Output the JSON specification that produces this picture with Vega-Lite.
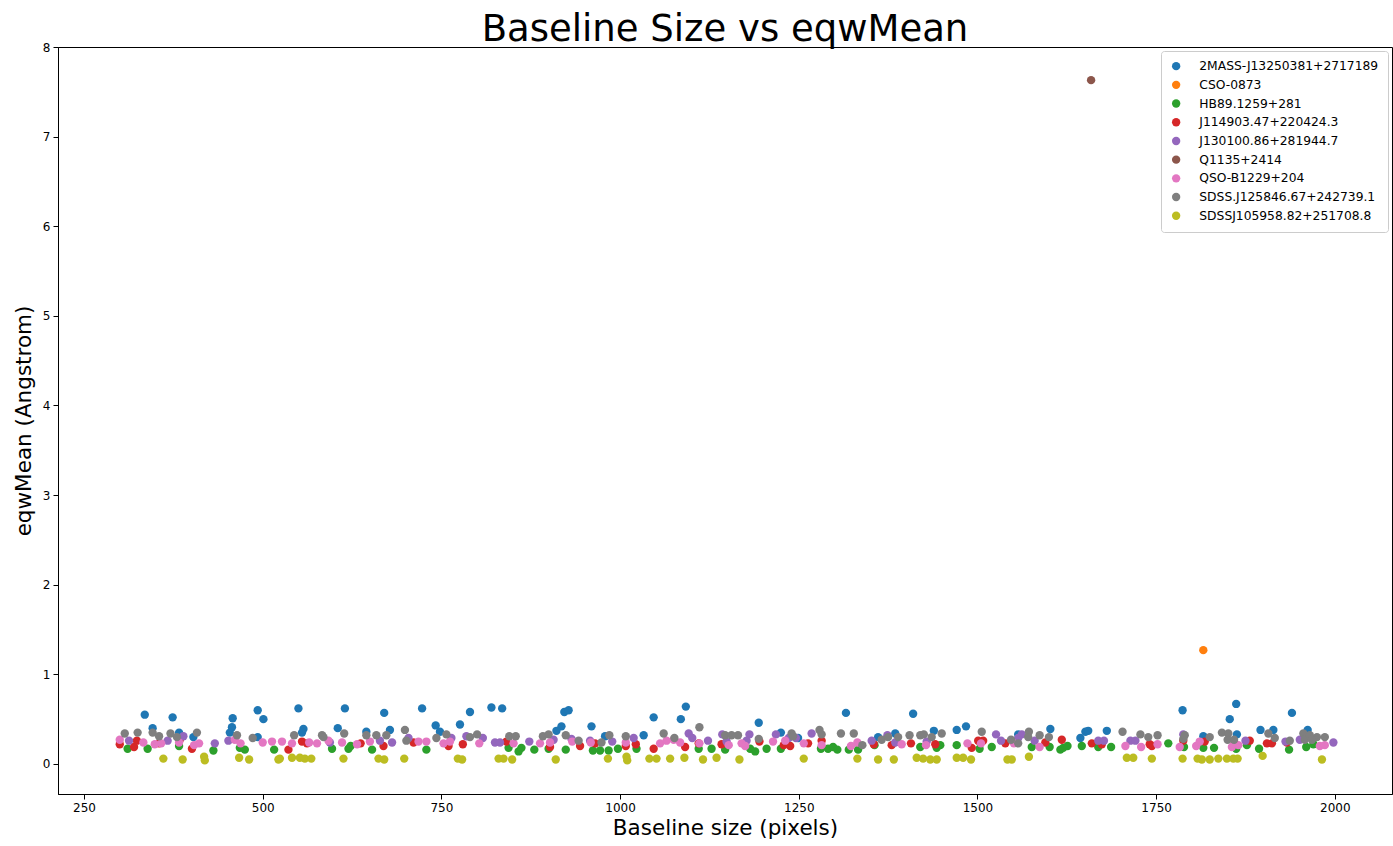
{
"$schema": "https://vega.github.io/schema/vega-lite/v6.json",
"width": 1334, "height": 747, "autosize": "none",
"padding": {"left": 58, "top": 47, "right": 1, "bottom": 52},
"background": "white",
"title": {"text": "Baseline Size vs eqwMean", "fontSize": 37, "font": "DejaVu Sans", "fontWeight": "normal", "color": "black", "anchor": "middle", "offset": -8},
"config": {
  "view": {"stroke": "black", "strokeWidth": 1},
  "axis": {"grid": false, "domainColor": "black", "tickColor": "black", "labelColor": "black", "titleColor": "black", "labelFont": "DejaVu Sans", "titleFont": "DejaVu Sans", "labelFontSize": 12, "titleFontSize": 21.5, "titleFontWeight": "normal", "tickSize": 5, "labelPadding": 3},
  "legend": {"labelFont": "DejaVu Sans", "labelFontSize": 12.3, "labelColor": "black", "labelLimit": 300, "fillColor": "white", "strokeColor": "#cccccc", "cornerRadius": 3, "padding": 9, "rowPadding": 5.7, "symbolSize": 70, "symbolType": "circle", "labelOffset": 17, "offset": 4}
},
"data": {"values": [
{"t":"2MASS-J13250381+2717189","x":335,"y":0.55},{"t":"2MASS-J13250381+2717189","x":346,"y":0.40},{"t":"2MASS-J13250381+2717189","x":374,"y":0.52},{"t":"2MASS-J13250381+2717189","x":383,"y":0.35},{"t":"2MASS-J13250381+2717189","x":403,"y":0.30},{"t":"2MASS-J13250381+2717189","x":458,"y":0.51},{"t":"2MASS-J13250381+2717189","x":457,"y":0.41},{"t":"2MASS-J13250381+2717189","x":454,"y":0.35},{"t":"2MASS-J13250381+2717189","x":493,"y":0.60},{"t":"2MASS-J13250381+2717189","x":501,"y":0.50},{"t":"2MASS-J13250381+2717189","x":493,"y":0.30},
{"t":"2MASS-J13250381+2717189","x":550,"y":0.62},{"t":"2MASS-J13250381+2717189","x":615,"y":0.62},{"t":"2MASS-J13250381+2717189","x":670,"y":0.57},{"t":"2MASS-J13250381+2717189","x":723,"y":0.62},{"t":"2MASS-J13250381+2717189","x":557,"y":0.39},{"t":"2MASS-J13250381+2717189","x":555,"y":0.35},{"t":"2MASS-J13250381+2717189","x":605,"y":0.40},{"t":"2MASS-J13250381+2717189","x":645,"y":0.36},{"t":"2MASS-J13250381+2717189","x":678,"y":0.38},{"t":"2MASS-J13250381+2717189","x":742,"y":0.43},{"t":"2MASS-J13250381+2717189","x":748,"y":0.36},
{"t":"2MASS-J13250381+2717189","x":790,"y":0.58},{"t":"2MASS-J13250381+2717189","x":820,"y":0.63},{"t":"2MASS-J13250381+2717189","x":835,"y":0.62},{"t":"2MASS-J13250381+2717189","x":776,"y":0.44},{"t":"2MASS-J13250381+2717189","x":922,"y":0.58},{"t":"2MASS-J13250381+2717189","x":928,"y":0.60},{"t":"2MASS-J13250381+2717189","x":918,"y":0.42},{"t":"2MASS-J13250381+2717189","x":911,"y":0.37},{"t":"2MASS-J13250381+2717189","x":960,"y":0.42},{"t":"2MASS-J13250381+2717189","x":979,"y":0.31},
{"t":"2MASS-J13250381+2717189","x":1047,"y":0.52},{"t":"2MASS-J13250381+2717189","x":1092,"y":0.64},{"t":"2MASS-J13250381+2717189","x":1085,"y":0.50},{"t":"2MASS-J13250381+2717189","x":1033,"y":0.32},{"t":"2MASS-J13250381+2717189","x":1194,"y":0.46},{"t":"2MASS-J13250381+2717189","x":1225,"y":0.35},
{"t":"2MASS-J13250381+2717189","x":1316,"y":0.57},{"t":"2MASS-J13250381+2717189","x":1410,"y":0.56},{"t":"2MASS-J13250381+2717189","x":1249,"y":0.29},{"t":"2MASS-J13250381+2717189","x":1361,"y":0.30},{"t":"2MASS-J13250381+2717189","x":1385,"y":0.34},{"t":"2MASS-J13250381+2717189","x":1439,"y":0.37},{"t":"2MASS-J13250381+2717189","x":1471,"y":0.38},
{"t":"2MASS-J13250381+2717189","x":1484,"y":0.42},{"t":"2MASS-J13250381+2717189","x":1602,"y":0.39},{"t":"2MASS-J13250381+2717189","x":1644,"y":0.29},{"t":"2MASS-J13250381+2717189","x":1651,"y":0.36},{"t":"2MASS-J13250381+2717189","x":1655,"y":0.37},{"t":"2MASS-J13250381+2717189","x":1681,"y":0.37},{"t":"2MASS-J13250381+2717189","x":1557,"y":0.33},
{"t":"2MASS-J13250381+2717189","x":1787,"y":0.60},{"t":"2MASS-J13250381+2717189","x":1862,"y":0.67},{"t":"2MASS-J13250381+2717189","x":1853,"y":0.50},{"t":"2MASS-J13250381+2717189","x":1940,"y":0.57},{"t":"2MASS-J13250381+2717189","x":1816,"y":0.31},{"t":"2MASS-J13250381+2717189","x":1863,"y":0.33},{"t":"2MASS-J13250381+2717189","x":1896,"y":0.38},{"t":"2MASS-J13250381+2717189","x":1914,"y":0.38},{"t":"2MASS-J13250381+2717189","x":1962,"y":0.38},
{"t":"CSO-0873","x":1816,"y":1.27},
{"t":"HB89.1259+281","x":311,"y":0.17},{"t":"HB89.1259+281","x":339,"y":0.17},{"t":"HB89.1259+281","x":383,"y":0.20},{"t":"HB89.1259+281","x":431,"y":0.15},{"t":"HB89.1259+281","x":468,"y":0.18},{"t":"HB89.1259+281","x":475,"y":0.16},{"t":"HB89.1259+281","x":516,"y":0.16},
{"t":"HB89.1259+281","x":597,"y":0.17},{"t":"HB89.1259+281","x":620,"y":0.17},{"t":"HB89.1259+281","x":623,"y":0.20},{"t":"HB89.1259+281","x":653,"y":0.16},{"t":"HB89.1259+281","x":729,"y":0.16},
{"t":"HB89.1259+281","x":844,"y":0.18},{"t":"HB89.1259+281","x":858,"y":0.14},{"t":"HB89.1259+281","x":862,"y":0.18},{"t":"HB89.1259+281","x":880,"y":0.16},{"t":"HB89.1259+281","x":900,"y":0.17},{"t":"HB89.1259+281","x":924,"y":0.16},{"t":"HB89.1259+281","x":962,"y":0.15},{"t":"HB89.1259+281","x":972,"y":0.15},{"t":"HB89.1259+281","x":984,"y":0.15},{"t":"HB89.1259+281","x":997,"y":0.17},
{"t":"HB89.1259+281","x":1023,"y":0.17},{"t":"HB89.1259+281","x":1110,"y":0.17},{"t":"HB89.1259+281","x":1128,"y":0.17},{"t":"HB89.1259+281","x":1147,"y":0.16},{"t":"HB89.1259+281","x":1182,"y":0.17},{"t":"HB89.1259+281","x":1189,"y":0.14},{"t":"HB89.1259+281","x":1205,"y":0.17},{"t":"HB89.1259+281","x":1225,"y":0.17},
{"t":"HB89.1259+281","x":1281,"y":0.17},{"t":"HB89.1259+281","x":1291,"y":0.17},{"t":"HB89.1259+281","x":1298,"y":0.19},{"t":"HB89.1259+281","x":1304,"y":0.16},{"t":"HB89.1259+281","x":1320,"y":0.16},{"t":"HB89.1259+281","x":1333,"y":0.16},{"t":"HB89.1259+281","x":1356,"y":0.21},{"t":"HB89.1259+281","x":1420,"y":0.19},{"t":"HB89.1259+281","x":1443,"y":0.18},{"t":"HB89.1259+281","x":1448,"y":0.21},{"t":"HB89.1259+281","x":1471,"y":0.21},
{"t":"HB89.1259+281","x":1503,"y":0.17},{"t":"HB89.1259+281","x":1520,"y":0.19},{"t":"HB89.1259+281","x":1576,"y":0.19},{"t":"HB89.1259+281","x":1601,"y":0.19},{"t":"HB89.1259+281","x":1616,"y":0.16},{"t":"HB89.1259+281","x":1620,"y":0.18},{"t":"HB89.1259+281","x":1626,"y":0.20},{"t":"HB89.1259+281","x":1646,"y":0.20},{"t":"HB89.1259+281","x":1669,"y":0.19},{"t":"HB89.1259+281","x":1687,"y":0.19},
{"t":"HB89.1259+281","x":1767,"y":0.23},{"t":"HB89.1259+281","x":1789,"y":0.19},{"t":"HB89.1259+281","x":1816,"y":0.18},{"t":"HB89.1259+281","x":1831,"y":0.18},{"t":"HB89.1259+281","x":1862,"y":0.17},{"t":"HB89.1259+281","x":1877,"y":0.21},{"t":"HB89.1259+281","x":1894,"y":0.17},{"t":"HB89.1259+281","x":1936,"y":0.16},{"t":"HB89.1259+281","x":1960,"y":0.19},{"t":"HB89.1259+281","x":1970,"y":0.22},
{"t":"J114903.47+220424.3","x":300,"y":0.22},{"t":"J114903.47+220424.3","x":320,"y":0.19},{"t":"J114903.47+220424.3","x":324,"y":0.26},{"t":"J114903.47+220424.3","x":355,"y":0.23},{"t":"J114903.47+220424.3","x":401,"y":0.17},{"t":"J114903.47+220424.3","x":384,"y":0.27},
{"t":"J114903.47+220424.3","x":536,"y":0.16},{"t":"J114903.47+220424.3","x":555,"y":0.25},{"t":"J114903.47+220424.3","x":562,"y":0.23},{"t":"J114903.47+220424.3","x":637,"y":0.23},{"t":"J114903.47+220424.3","x":669,"y":0.20},{"t":"J114903.47+220424.3","x":711,"y":0.24},{"t":"J114903.47+220424.3","x":760,"y":0.20},
{"t":"J114903.47+220424.3","x":780,"y":0.22},{"t":"J114903.47+220424.3","x":841,"y":0.25},{"t":"J114903.47+220424.3","x":944,"y":0.20},{"t":"J114903.47+220424.3","x":965,"y":0.23},{"t":"J114903.47+220424.3","x":902,"y":0.19},
{"t":"J114903.47+220424.3","x":1008,"y":0.20},{"t":"J114903.47+220424.3","x":1022,"y":0.22},{"t":"J114903.47+220424.3","x":1047,"y":0.17},{"t":"J114903.47+220424.3","x":1091,"y":0.19},{"t":"J114903.47+220424.3","x":1110,"y":0.23},{"t":"J114903.47+220424.3","x":1142,"y":0.22},{"t":"J114903.47+220424.3","x":1195,"y":0.25},{"t":"J114903.47+220424.3","x":1229,"y":0.21},
{"t":"J114903.47+220424.3","x":1238,"y":0.20},{"t":"J114903.47+220424.3","x":1263,"y":0.23},{"t":"J114903.47+220424.3","x":1282,"y":0.26},{"t":"J114903.47+220424.3","x":1355,"y":0.22},{"t":"J114903.47+220424.3","x":1380,"y":0.21},{"t":"J114903.47+220424.3","x":1407,"y":0.23},{"t":"J114903.47+220424.3","x":1441,"y":0.22},
{"t":"J114903.47+220424.3","x":1492,"y":0.18},{"t":"J114903.47+220424.3","x":1501,"y":0.26},{"t":"J114903.47+220424.3","x":1508,"y":0.26},{"t":"J114903.47+220424.3","x":1539,"y":0.23},{"t":"J114903.47+220424.3","x":1595,"y":0.24},{"t":"J114903.47+220424.3","x":1618,"y":0.27},{"t":"J114903.47+220424.3","x":1660,"y":0.23},{"t":"J114903.47+220424.3","x":1674,"y":0.22},
{"t":"J114903.47+220424.3","x":1741,"y":0.22},{"t":"J114903.47+220424.3","x":1744,"y":0.20},{"t":"J114903.47+220424.3","x":1788,"y":0.26},{"t":"J114903.47+220424.3","x":1818,"y":0.25},{"t":"J114903.47+220424.3","x":1860,"y":0.23},{"t":"J114903.47+220424.3","x":1881,"y":0.26},{"t":"J114903.47+220424.3","x":1905,"y":0.23},{"t":"J114903.47+220424.3","x":1912,"y":0.23},{"t":"J114903.47+220424.3","x":1933,"y":0.24},
{"t":"J130100.86+281944.7","x":313,"y":0.26},{"t":"J130100.86+281944.7","x":389,"y":0.31},{"t":"J130100.86+281944.7","x":367,"y":0.26},{"t":"J130100.86+281944.7","x":433,"y":0.23},{"t":"J130100.86+281944.7","x":452,"y":0.26},
{"t":"J130100.86+281944.7","x":594,"y":0.24},{"t":"J130100.86+281944.7","x":664,"y":0.26},{"t":"J130100.86+281944.7","x":681,"y":0.24},{"t":"J130100.86+281944.7","x":704,"y":0.29},
{"t":"J130100.86+281944.7","x":764,"y":0.29},{"t":"J130100.86+281944.7","x":785,"y":0.31},{"t":"J130100.86+281944.7","x":808,"y":0.29},{"t":"J130100.86+281944.7","x":825,"y":0.24},{"t":"J130100.86+281944.7","x":832,"y":0.24},{"t":"J130100.86+281944.7","x":873,"y":0.25},{"t":"J130100.86+281944.7","x":907,"y":0.27},{"t":"J130100.86+281944.7","x":932,"y":0.28},{"t":"J130100.86+281944.7","x":958,"y":0.26},{"t":"J130100.86+281944.7","x":989,"y":0.25},
{"t":"J130100.86+281944.7","x":1019,"y":0.29},{"t":"J130100.86+281944.7","x":1096,"y":0.34},{"t":"J130100.86+281944.7","x":1101,"y":0.29},{"t":"J130100.86+281944.7","x":1123,"y":0.26},{"t":"J130100.86+281944.7","x":1143,"y":0.33},{"t":"J130100.86+281944.7","x":1149,"y":0.25},{"t":"J130100.86+281944.7","x":1181,"y":0.33},{"t":"J130100.86+281944.7","x":1177,"y":0.26},{"t":"J130100.86+281944.7","x":1218,"y":0.33},{"t":"J130100.86+281944.7","x":1236,"y":0.29},
{"t":"J130100.86+281944.7","x":1246,"y":0.29},{"t":"J130100.86+281944.7","x":1268,"y":0.34},{"t":"J130100.86+281944.7","x":1352,"y":0.26},{"t":"J130100.86+281944.7","x":1374,"y":0.32},{"t":"J130100.86+281944.7","x":1385,"y":0.24},{"t":"J130100.86+281944.7","x":1429,"y":0.25},
{"t":"J130100.86+281944.7","x":1526,"y":0.33},{"t":"J130100.86+281944.7","x":1533,"y":0.26},{"t":"J130100.86+281944.7","x":1562,"y":0.33},{"t":"J130100.86+281944.7","x":1557,"y":0.29},{"t":"J130100.86+281944.7","x":1580,"y":0.26},{"t":"J130100.86+281944.7","x":1669,"y":0.26},{"t":"J130100.86+281944.7","x":1677,"y":0.26},{"t":"J130100.86+281944.7","x":1714,"y":0.26},
{"t":"J130100.86+281944.7","x":1721,"y":0.26},{"t":"J130100.86+281944.7","x":1788,"y":0.33},{"t":"J130100.86+281944.7","x":1875,"y":0.26},{"t":"J130100.86+281944.7","x":1931,"y":0.25},{"t":"J130100.86+281944.7","x":1951,"y":0.27},{"t":"J130100.86+281944.7","x":1998,"y":0.24},
{"t":"Q1135+2414","x":1659,"y":7.63},
{"t":"QSO-B1229+204","x":300,"y":0.27},{"t":"QSO-B1229+204","x":333,"y":0.24},{"t":"QSO-B1229+204","x":349,"y":0.22},{"t":"QSO-B1229+204","x":358,"y":0.23},{"t":"QSO-B1229+204","x":383,"y":0.24},{"t":"QSO-B1229+204","x":404,"y":0.21},{"t":"QSO-B1229+204","x":411,"y":0.23},{"t":"QSO-B1229+204","x":461,"y":0.27},{"t":"QSO-B1229+204","x":469,"y":0.23},{"t":"QSO-B1229+204","x":500,"y":0.24},{"t":"QSO-B1229+204","x":513,"y":0.25},
{"t":"QSO-B1229+204","x":527,"y":0.25},{"t":"QSO-B1229+204","x":541,"y":0.23},{"t":"QSO-B1229+204","x":565,"y":0.24},{"t":"QSO-B1229+204","x":576,"y":0.23},{"t":"QSO-B1229+204","x":592,"y":0.26},{"t":"QSO-B1229+204","x":611,"y":0.24},{"t":"QSO-B1229+204","x":632,"y":0.22},{"t":"QSO-B1229+204","x":650,"y":0.25},{"t":"QSO-B1229+204","x":718,"y":0.25},{"t":"QSO-B1229+204","x":729,"y":0.25},{"t":"QSO-B1229+204","x":753,"y":0.23},
{"t":"QSO-B1229+204","x":762,"y":0.25},{"t":"QSO-B1229+204","x":803,"y":0.23},{"t":"QSO-B1229+204","x":851,"y":0.23},{"t":"QSO-B1229+204","x":888,"y":0.23},{"t":"QSO-B1229+204","x":902,"y":0.24},{"t":"QSO-B1229+204","x":933,"y":0.25},{"t":"QSO-B1229+204","x":959,"y":0.24},
{"t":"QSO-B1229+204","x":1008,"y":0.24},{"t":"QSO-B1229+204","x":1056,"y":0.23},{"t":"QSO-B1229+204","x":1065,"y":0.26},{"t":"QSO-B1229+204","x":1075,"y":0.27},{"t":"QSO-B1229+204","x":1084,"y":0.24},{"t":"QSO-B1229+204","x":1111,"y":0.23},{"t":"QSO-B1229+204","x":1152,"y":0.21},{"t":"QSO-B1229+204","x":1170,"y":0.23},{"t":"QSO-B1229+204","x":1175,"y":0.20},{"t":"QSO-B1229+204","x":1214,"y":0.25},{"t":"QSO-B1229+204","x":1231,"y":0.26},
{"t":"QSO-B1229+204","x":1257,"y":0.23},{"t":"QSO-B1229+204","x":1282,"y":0.21},{"t":"QSO-B1229+204","x":1323,"y":0.20},{"t":"QSO-B1229+204","x":1332,"y":0.24},{"t":"QSO-B1229+204","x":1394,"y":0.22},{"t":"QSO-B1229+204","x":1428,"y":0.21},
{"t":"QSO-B1229+204","x":1486,"y":0.23},{"t":"QSO-B1229+204","x":1505,"y":0.23},{"t":"QSO-B1229+204","x":1551,"y":0.23},{"t":"QSO-B1229+204","x":1587,"y":0.19},
{"t":"QSO-B1229+204","x":1707,"y":0.20},{"t":"QSO-B1229+204","x":1729,"y":0.19},{"t":"QSO-B1229+204","x":1752,"y":0.22},{"t":"QSO-B1229+204","x":1783,"y":0.19},{"t":"QSO-B1229+204","x":1806,"y":0.20},{"t":"QSO-B1229+204","x":1811,"y":0.25},{"t":"QSO-B1229+204","x":1856,"y":0.19},{"t":"QSO-B1229+204","x":1865,"y":0.21},{"t":"QSO-B1229+204","x":1979,"y":0.20},{"t":"QSO-B1229+204","x":1986,"y":0.21},
{"t":"SDSS.J125846.67+242739.1","x":307,"y":0.34},{"t":"SDSS.J125846.67+242739.1","x":325,"y":0.35},{"t":"SDSS.J125846.67+242739.1","x":346,"y":0.35},{"t":"SDSS.J125846.67+242739.1","x":355,"y":0.31},{"t":"SDSS.J125846.67+242739.1","x":371,"y":0.34},{"t":"SDSS.J125846.67+242739.1","x":380,"y":0.30},{"t":"SDSS.J125846.67+242739.1","x":408,"y":0.35},{"t":"SDSS.J125846.67+242739.1","x":464,"y":0.32},{"t":"SDSS.J125846.67+242739.1","x":486,"y":0.29},
{"t":"SDSS.J125846.67+242739.1","x":544,"y":0.32},{"t":"SDSS.J125846.67+242739.1","x":583,"y":0.32},{"t":"SDSS.J125846.67+242739.1","x":585,"y":0.30},{"t":"SDSS.J125846.67+242739.1","x":614,"y":0.34},{"t":"SDSS.J125846.67+242739.1","x":645,"y":0.32},{"t":"SDSS.J125846.67+242739.1","x":659,"y":0.32},{"t":"SDSS.J125846.67+242739.1","x":673,"y":0.32},{"t":"SDSS.J125846.67+242739.1","x":699,"y":0.38},{"t":"SDSS.J125846.67+242739.1","x":701,"y":0.26},{"t":"SDSS.J125846.67+242739.1","x":743,"y":0.29},
{"t":"SDSS.J125846.67+242739.1","x":757,"y":0.33},{"t":"SDSS.J125846.67+242739.1","x":790,"y":0.30},{"t":"SDSS.J125846.67+242739.1","x":800,"y":0.33},{"t":"SDSS.J125846.67+242739.1","x":845,"y":0.31},{"t":"SDSS.J125846.67+242739.1","x":854,"y":0.31},{"t":"SDSS.J125846.67+242739.1","x":892,"y":0.31},{"t":"SDSS.J125846.67+242739.1","x":900,"y":0.33},{"t":"SDSS.J125846.67+242739.1","x":924,"y":0.32},{"t":"SDSS.J125846.67+242739.1","x":942,"y":0.26},{"t":"SDSS.J125846.67+242739.1","x":985,"y":0.32},{"t":"SDSS.J125846.67+242739.1","x":974,"y":0.24},
{"t":"SDSS.J125846.67+242739.1","x":1008,"y":0.31},{"t":"SDSS.J125846.67+242739.1","x":1061,"y":0.34},{"t":"SDSS.J125846.67+242739.1","x":1076,"y":0.29},{"t":"SDSS.J125846.67+242739.1","x":1111,"y":0.41},{"t":"SDSS.J125846.67+242739.1","x":1147,"y":0.32},{"t":"SDSS.J125846.67+242739.1","x":1156,"y":0.32},{"t":"SDSS.J125846.67+242739.1","x":1165,"y":0.32},{"t":"SDSS.J125846.67+242739.1","x":1194,"y":0.28},
{"t":"SDSS.J125846.67+242739.1","x":1240,"y":0.34},{"t":"SDSS.J125846.67+242739.1","x":1242,"y":0.31},{"t":"SDSS.J125846.67+242739.1","x":1279,"y":0.38},{"t":"SDSS.J125846.67+242739.1","x":1282,"y":0.33},{"t":"SDSS.J125846.67+242739.1","x":1309,"y":0.34},{"t":"SDSS.J125846.67+242739.1","x":1327,"y":0.34},{"t":"SDSS.J125846.67+242739.1","x":1339,"y":0.21},{"t":"SDSS.J125846.67+242739.1","x":1366,"y":0.27},{"t":"SDSS.J125846.67+242739.1","x":1375,"y":0.30},{"t":"SDSS.J125846.67+242739.1","x":1389,"y":0.30},{"t":"SDSS.J125846.67+242739.1","x":1405,"y":0.32},{"t":"SDSS.J125846.67+242739.1","x":1420,"y":0.32},{"t":"SDSS.J125846.67+242739.1","x":1425,"y":0.33},{"t":"SDSS.J125846.67+242739.1","x":1436,"y":0.30},{"t":"SDSS.J125846.67+242739.1","x":1450,"y":0.34},
{"t":"SDSS.J125846.67+242739.1","x":1506,"y":0.36},{"t":"SDSS.J125846.67+242739.1","x":1547,"y":0.27},{"t":"SDSS.J125846.67+242739.1","x":1572,"y":0.36},{"t":"SDSS.J125846.67+242739.1","x":1571,"y":0.30},{"t":"SDSS.J125846.67+242739.1","x":1587,"y":0.32},{"t":"SDSS.J125846.67+242739.1","x":1600,"y":0.30},{"t":"SDSS.J125846.67+242739.1","x":1557,"y":0.23},{"t":"SDSS.J125846.67+242739.1","x":1703,"y":0.36},
{"t":"SDSS.J125846.67+242739.1","x":1728,"y":0.33},{"t":"SDSS.J125846.67+242739.1","x":1739,"y":0.30},{"t":"SDSS.J125846.67+242739.1","x":1752,"y":0.32},{"t":"SDSS.J125846.67+242739.1","x":1788,"y":0.28},{"t":"SDSS.J125846.67+242739.1","x":1790,"y":0.32},{"t":"SDSS.J125846.67+242739.1","x":1825,"y":0.30},{"t":"SDSS.J125846.67+242739.1","x":1842,"y":0.35},{"t":"SDSS.J125846.67+242739.1","x":1851,"y":0.34},{"t":"SDSS.J125846.67+242739.1","x":1850,"y":0.27},{"t":"SDSS.J125846.67+242739.1","x":1859,"y":0.27},{"t":"SDSS.J125846.67+242739.1","x":1907,"y":0.34},{"t":"SDSS.J125846.67+242739.1","x":1916,"y":0.29},{"t":"SDSS.J125846.67+242739.1","x":1937,"y":0.26},
{"t":"SDSS.J125846.67+242739.1","x":1956,"y":0.34},{"t":"SDSS.J125846.67+242739.1","x":1958,"y":0.27},{"t":"SDSS.J125846.67+242739.1","x":1965,"y":0.32},{"t":"SDSS.J125846.67+242739.1","x":1975,"y":0.30},{"t":"SDSS.J125846.67+242739.1","x":1986,"y":0.30},{"t":"SDSS.J125846.67+242739.1","x":1968,"y":0.27},
{"t":"SDSSJ105958.82+251708.8","x":361,"y":0.06},{"t":"SDSSJ105958.82+251708.8","x":388,"y":0.05},{"t":"SDSSJ105958.82+251708.8","x":418,"y":0.08},{"t":"SDSSJ105958.82+251708.8","x":419,"y":0.04},{"t":"SDSSJ105958.82+251708.8","x":467,"y":0.07},{"t":"SDSSJ105958.82+251708.8","x":481,"y":0.05},{"t":"SDSSJ105958.82+251708.8","x":522,"y":0.05},
{"t":"SDSSJ105958.82+251708.8","x":524,"y":0.06},{"t":"SDSSJ105958.82+251708.8","x":541,"y":0.07},{"t":"SDSSJ105958.82+251708.8","x":552,"y":0.07},{"t":"SDSSJ105958.82+251708.8","x":559,"y":0.06},{"t":"SDSSJ105958.82+251708.8","x":568,"y":0.06},{"t":"SDSSJ105958.82+251708.8","x":613,"y":0.06},{"t":"SDSSJ105958.82+251708.8","x":662,"y":0.06},{"t":"SDSSJ105958.82+251708.8","x":670,"y":0.05},{"t":"SDSSJ105958.82+251708.8","x":698,"y":0.06},
{"t":"SDSSJ105958.82+251708.8","x":773,"y":0.06},{"t":"SDSSJ105958.82+251708.8","x":779,"y":0.05},{"t":"SDSSJ105958.82+251708.8","x":830,"y":0.06},{"t":"SDSSJ105958.82+251708.8","x":837,"y":0.06},{"t":"SDSSJ105958.82+251708.8","x":849,"y":0.05},{"t":"SDSSJ105958.82+251708.8","x":910,"y":0.05},{"t":"SDSSJ105958.82+251708.8","x":983,"y":0.06},
{"t":"SDSSJ105958.82+251708.8","x":1009,"y":0.08},{"t":"SDSSJ105958.82+251708.8","x":1010,"y":0.04},{"t":"SDSSJ105958.82+251708.8","x":1041,"y":0.06},{"t":"SDSSJ105958.82+251708.8","x":1051,"y":0.06},{"t":"SDSSJ105958.82+251708.8","x":1070,"y":0.06},{"t":"SDSSJ105958.82+251708.8","x":1090,"y":0.07},{"t":"SDSSJ105958.82+251708.8","x":1116,"y":0.05},{"t":"SDSSJ105958.82+251708.8","x":1135,"y":0.07},{"t":"SDSSJ105958.82+251708.8","x":1167,"y":0.05},
{"t":"SDSSJ105958.82+251708.8","x":1257,"y":0.06},{"t":"SDSSJ105958.82+251708.8","x":1332,"y":0.06},{"t":"SDSSJ105958.82+251708.8","x":1361,"y":0.05},{"t":"SDSSJ105958.82+251708.8","x":1383,"y":0.05},{"t":"SDSSJ105958.82+251708.8","x":1415,"y":0.07},{"t":"SDSSJ105958.82+251708.8","x":1424,"y":0.06},{"t":"SDSSJ105958.82+251708.8","x":1434,"y":0.05},{"t":"SDSSJ105958.82+251708.8","x":1443,"y":0.05},{"t":"SDSSJ105958.82+251708.8","x":1471,"y":0.07},
{"t":"SDSSJ105958.82+251708.8","x":1480,"y":0.07},{"t":"SDSSJ105958.82+251708.8","x":1491,"y":0.05},{"t":"SDSSJ105958.82+251708.8","x":1542,"y":0.05},{"t":"SDSSJ105958.82+251708.8","x":1548,"y":0.05},{"t":"SDSSJ105958.82+251708.8","x":1572,"y":0.08},{"t":"SDSSJ105958.82+251708.8","x":1709,"y":0.07},
{"t":"SDSSJ105958.82+251708.8","x":1718,"y":0.07},{"t":"SDSSJ105958.82+251708.8","x":1744,"y":0.06},{"t":"SDSSJ105958.82+251708.8","x":1787,"y":0.06},{"t":"SDSSJ105958.82+251708.8","x":1808,"y":0.06},{"t":"SDSSJ105958.82+251708.8","x":1814,"y":0.05},{"t":"SDSSJ105958.82+251708.8","x":1825,"y":0.05},{"t":"SDSSJ105958.82+251708.8","x":1837,"y":0.06},{"t":"SDSSJ105958.82+251708.8","x":1849,"y":0.06},{"t":"SDSSJ105958.82+251708.8","x":1858,"y":0.06},{"t":"SDSSJ105958.82+251708.8","x":1864,"y":0.06},{"t":"SDSSJ105958.82+251708.8","x":1899,"y":0.09},{"t":"SDSSJ105958.82+251708.8","x":1982,"y":0.05}
]},
"mark": {"type": "point", "filled": true, "opacity": 1, "size": 70, "strokeWidth": 0},
"encoding": {
  "x": {"field": "x", "type": "quantitative", "title": "Baseline size (pixels)", "scale": {"domain": [213.6, 2080], "nice": false, "zero": false}, "axis": {"values": [250, 500, 750, 1000, 1250, 1500, 1750, 2000], "format": "d", "titlePadding": 4}},
  "y": {"field": "y", "type": "quantitative", "title": "eqwMean (Angstrom)", "scale": {"domain": [-0.335, 8], "nice": false, "zero": false}, "axis": {"values": [0, 1, 2, 3, 4, 5, 6, 7, 8], "format": "d", "titlePadding": 7}},
  "color": {"field": "t", "type": "nominal", "title": null, "sort": null,
    "scale": {"domain": ["2MASS-J13250381+2717189", "CSO-0873", "HB89.1259+281", "J114903.47+220424.3", "J130100.86+281944.7", "Q1135+2414", "QSO-B1229+204", "SDSS.J125846.67+242739.1", "SDSSJ105958.82+251708.8"],
              "range": ["#1f77b4", "#ff7f0e", "#2ca02c", "#d62728", "#9467bd", "#8c564b", "#e377c2", "#7f7f7f", "#bcbd22"]},
    "legend": {"orient": "top-right"}}
}
}
